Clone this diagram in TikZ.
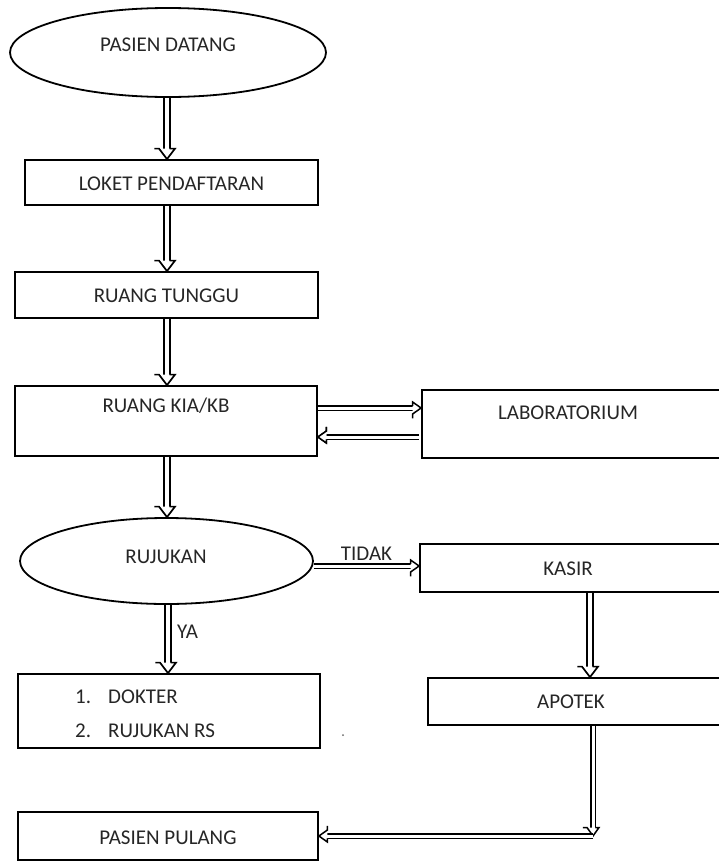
\documentclass[tikz,border=0pt]{standalone}
\usepackage{fontspec}
\setmainfont{Carlito}
\usetikzlibrary{shapes.geometric,decorations.markings}
\begin{document}
\begin{tikzpicture}[x=1pt,y=-1pt,
  box/.style={draw,line width=1.8pt,rectangle,inner sep=0pt},
  oval/.style={draw,line width=1.8pt,ellipse,inner sep=0pt},
  lbl/.style={font=\fontsize{21}{25}\selectfont,text=black!85,inner sep=0pt},
  vdbl/.style={double,double distance=3.8pt,line width=1.7pt,shorten >=10pt,
    postaction={decorate},
    decoration={markings,mark=at position 1 with {
      \draw[line width=1.7pt,fill=white,line join=miter,x=1pt,y=1pt]
        (-10.5,2.7) -- (-10.5,8) -- (0,0) -- (-10.5,-8) -- (-10.5,-2.7);}}},
  hdbl/.style={double,double distance=3pt,line width=1.5pt,shorten >=8pt,
    postaction={decorate},
    decoration={markings,mark=at position 1 with {
      \draw[line width=1.5pt,fill=white,line join=miter,x=1pt,y=1pt]
        (-8.5,2.25) -- (-8.5,6) -- (0,0) -- (-8.5,-6) -- (-8.5,-2.25);}}},
  closedstart/.style={postaction={decorate},
    decoration={markings,mark=at position 0 with {
      \draw[line width=1.5pt,x=1pt,y=1pt] (0,3) -- (0,-3);}}},
]
\useasboundingbox (0,0) rectangle (719,862);
\begin{scope}
\clip (0,0) rectangle (719,862);
% shapes
\node[oval,minimum width=316pt,minimum height=89pt] (pd) at (168,52.5) {};
\node[box,minimum width=293pt,minimum height=45pt] (loket) at (171.5,182.5) {};
\node[box,minimum width=303pt,minimum height=46pt] (tunggu) at (166.5,295) {};
\node[box,minimum width=302pt,minimum height=70pt] (kia) at (166,421) {};
\node[box,minimum width=302pt,minimum height=68pt] (lab) at (573,424) {};
\node[oval,minimum width=293pt,minimum height=86pt] (ruj) at (166.5,561) {};
\node[box,minimum width=304pt,minimum height=48pt] (kasir) at (572,568) {};
\node[box,minimum width=302pt,minimum height=74pt] (dokter) at (169,711) {};
\node[box,minimum width=296pt,minimum height=47pt] (apotek) at (576,701.5) {};
\node[box,minimum width=300pt,minimum height=48pt] (pulang) at (168,836) {};
% labels
\node[lbl] (tpd) at (168,45) {PASIEN DATANG};
\node[lbl] (tloket) at (171.5,184) {LOKET PENDAFTARAN};
\node[lbl] (ttunggu) at (166.5,296) {RUANG TUNGGU};
\node[lbl] (tkia) at (166,406) {RUANG KIA/KB};
\node[lbl] (tlab) at (568,413) {LABORATORIUM};
\node[lbl] (truj) at (166,557) {RUJUKAN};
\node[lbl] (tkasir) at (568,569) {KASIR};
\node[lbl,anchor=west] (tn1) at (75,697) {1.};
\node[lbl,anchor=west] (td1) at (108,697) {DOKTER};
\node[lbl,anchor=west] (tn2) at (75,731) {2.};
\node[lbl,anchor=west] (td2) at (108,731) {RUJUKAN RS};
\node[lbl] (tapotek) at (571,702) {APOTEK};
\node[lbl] (tpulang) at (168,838) {PASIEN PULANG};
\fill[black!60] (343,735) circle (1pt);
% connectors
\draw[vdbl] ([xshift=-1pt]pd.south) -- ([xshift=-1pt]pd.south |- loket.north);
\draw[vdbl] ([xshift=-1pt]pd.south |- loket.south) -- ([xshift=-1pt]pd.south |- tunggu.north);
\draw[vdbl] ([xshift=-1pt]pd.south |- tunggu.south) -- ([xshift=-1pt]pd.south |- kia.north);
\draw[vdbl] ([xshift=-1pt]pd.south |- kia.south) -- ([xshift=-1pt]pd.south |- ruj.north);
\draw[hdbl] ([yshift=13pt]kia.east) -- ([yshift=13pt]kia.east -| lab.west);
\draw[hdbl,closedstart] ([yshift=-16pt,xshift=-2pt]kia.east -| lab.west) -- ([yshift=-16pt]kia.east);
\draw[hdbl] ([yshift=-5pt]ruj.east) -- ([yshift=-5pt]ruj.east -| kasir.west)
  node[lbl,midway,above=5pt] (ttidak) {TIDAK};
\draw[vdbl] ([xshift=1.5pt]ruj.south) -- ([xshift=1.5pt]ruj.south |- dokter.north);
\node[lbl,anchor=west] (tya) at (177,632) {YA};
\draw[vdbl] ([xshift=18pt]kasir.south) -- ([xshift=18pt]kasir.south |- apotek.north);
\coordinate (corner) at ([xshift=17pt]apotek.south |- pulang.east);
\draw[hdbl] ([xshift=17pt]apotek.south) -- (corner);
\draw[hdbl] (corner) -- (pulang.east);
\end{scope}
\end{tikzpicture}
\end{document}
